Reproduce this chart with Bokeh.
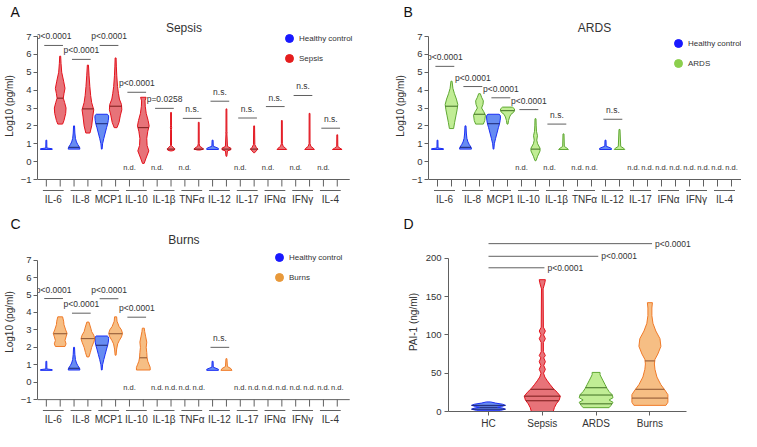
import numpy as np
from bokeh.plotting import figure
from bokeh.models import FixedTicker, Legend, LegendItem
from bokeh.layouts import column, row
from bokeh.core.properties import value
from bokeh.embed import file_html
from bokeh.resources import INLINE

FONT = "Liberation Sans"
TXT = "#333333"
AX = "#606060"

# ---------------- data ----------------
cytokines = ["IL-6", "IL-8", "MCP1", "IL-10", "IL-1β", "TNFα", "IL-12", "IL-17", "IFNα", "IFNγ", "IL-4"]

# healthy controls (log10 pg/ml levels and relative violin widths); absent = n.d.
hc_levels = {
    "IL-6": [0.68, 0.72, 0.76, 1.2],
    "IL-8": [0.7, 0.8, 0.95, 1.1, 1.3, 1.6, 2.0],
    "MCP1": [0.7, 1.0, 1.3, 1.6, 1.9, 2.1, 2.3, 2.5, 2.6, 2.65],
    "IL-12": [0.68, 0.74, 0.8, 0.86, 1.2],
}
hc_widths = {
    "IL-6": [0.85, 0.85, 0.08, 0.06],
    "IL-8": [0.85, 0.8, 0.55, 0.35, 0.2, 0.12, 0.07],
    "MCP1": [0.05, 0.12, 0.3, 0.5, 0.7, 0.85, 0.95, 1.0, 0.95, 0.8],
    "IL-12": [0.85, 0.85, 0.5, 0.1, 0.07],
}
hc_medians = {"IL-8": 0.8, "MCP1": 2.12}

sepsis_levels = {
    "IL-6": [2.1, 2.3, 2.7, 3.0, 3.3, 3.55, 3.8, 4.1, 4.5, 5.0, 5.5, 5.9],
    "IL-8": [1.6, 2.0, 2.5, 2.9, 3.3, 3.7, 4.2, 4.8, 5.4],
    "MCP1": [1.9, 2.2, 2.6, 2.9, 3.2, 3.5, 3.8, 4.2, 4.8, 5.3, 5.8],
    "IL-10": [-0.1, 0.2, 0.6, 0.9, 1.3, 1.7, 2.0, 2.3, 2.7, 3.1, 3.4, 3.6],
    "IL-1β": [0.6, 0.65, 0.72, 0.8, 0.9, 1.8, 1.9, 2.0, 2.75],
    "TNFα": [0.65, 0.7, 0.76, 0.86, 1.0, 2.2],
    "IL-12": [0.3, 0.6, 0.67, 0.75, 0.85, 1.55, 1.62, 1.7, 2.95],
    "IL-17": [0.5, 0.6, 0.7, 0.8, 0.95, 2.0],
    "IFNα": [0.68, 0.75, 0.85, 1.0, 2.3],
    "IFNγ": [0.68, 0.75, 0.85, 1.0, 2.7],
    "IL-4": [0.68, 0.75, 0.85, 1.5],
}
sepsis_widths = {
    "IL-6": [0.35, 0.55, 0.8, 0.85, 0.65, 0.45, 0.55, 0.7, 0.5, 0.22, 0.12, 0.07],
    "IL-8": [0.3, 0.55, 0.7, 0.85, 0.55, 0.4, 0.28, 0.17, 0.08],
    "MCP1": [0.2, 0.5, 0.7, 0.9, 0.85, 0.55, 0.42, 0.28, 0.17, 0.11, 0.07],
    "IL-10": [0.12, 0.4, 0.8, 0.55, 0.5, 0.65, 0.85, 0.7, 0.42, 0.28, 0.25, 0.4],
    "IL-1β": [0.15, 0.5, 0.55, 0.3, 0.07, 0.06, 0.09, 0.06, 0.06],
    "TNFα": [0.2, 0.7, 0.55, 0.15, 0.07, 0.06],
    "IL-12": [0.06, 0.15, 0.65, 0.65, 0.15, 0.07, 0.1, 0.07, 0.06],
    "IL-17": [0.08, 0.3, 0.55, 0.3, 0.1, 0.06],
    "IFNα": [0.7, 0.55, 0.2, 0.07, 0.06],
    "IFNγ": [0.7, 0.55, 0.2, 0.07, 0.06],
    "IL-4": [0.7, 0.4, 0.08, 0.06],
}
sepsis_medians = {"IL-6": 3.55, "IL-8": 2.95, "MCP1": 3.1, "IL-10": 1.9, "IL-1β": 0.7,
                  "TNFα": 0.7, "IL-12": 0.7, "IL-17": 0.7}

ards_levels = {
    "IL-6": [1.85, 2.2, 2.6, 2.9, 3.2, 3.5, 3.8, 4.1, 4.5],
    "IL-8": [2.1, 2.3, 2.6, 2.8, 3.0, 3.2, 3.4, 3.6, 3.8],
    "MCP1": [2.1, 2.3, 2.5, 2.65, 2.75, 2.85, 2.95, 3.05],
    "IL-10": [0.05, 0.3, 0.6, 0.75, 1.0, 1.2, 1.45, 1.7, 2.0, 2.4],
    "IL-1β": [0.68, 0.75, 0.85, 1.55],
    "IL-12": [0.68, 0.75, 0.85, 1.8],
}
ards_widths = {
    "IL-6": [0.3, 0.45, 0.65, 0.8, 0.9, 0.7, 0.42, 0.2, 0.08],
    "IL-8": [0.55, 0.75, 0.85, 0.6, 0.3, 0.5, 0.55, 0.3, 0.12],
    "MCP1": [0.07, 0.15, 0.3, 0.5, 0.85, 1.0, 1.0, 0.7],
    "IL-10": [0.07, 0.3, 0.65, 0.65, 0.3, 0.18, 0.28, 0.14, 0.1, 0.07],
    "IL-1β": [0.7, 0.5, 0.12, 0.07],
    "IL-12": [0.75, 0.6, 0.17, 0.07],
}
ards_medians = {"IL-6": 3.1, "IL-8": 2.65, "MCP1": 2.85, "IL-10": 0.7}

burns_levels = {
    "IL-6": [2.05, 2.2, 2.4, 2.6, 2.8, 3.0, 3.3, 3.5, 3.75],
    "IL-8": [1.45, 1.7, 2.0, 2.3, 2.5, 2.7, 2.9, 3.1, 3.45],
    "MCP1": [1.55, 1.9, 2.2, 2.4, 2.6, 2.8, 3.0, 3.2, 3.5, 3.75],
    "IL-10": [0.7, 0.85, 1.0, 1.2, 1.4, 1.7, 2.0, 2.3, 2.6, 2.9, 3.1],
    "IL-12": [0.68, 0.78, 0.9, 1.35],
}
burns_widths = {
    "IL-6": [0.7, 0.85, 0.7, 0.85, 1.0, 0.8, 0.55, 0.5, 0.35],
    "IL-8": [0.15, 0.35, 0.55, 0.85, 1.0, 0.85, 0.55, 0.42, 0.15],
    "MCP1": [0.07, 0.15, 0.3, 0.55, 0.85, 1.0, 0.85, 0.5, 0.2, 0.15],
    "IL-10": [1.0, 1.0, 0.85, 0.65, 0.55, 0.5, 0.42, 0.5, 0.35, 0.2, 0.14],
    "IL-12": [0.8, 0.65, 0.14, 0.07],
}
burns_medians = {"IL-6": 2.78, "IL-8": 2.5, "MCP1": 2.78, "IL-10": 1.4}

sepsis_bracket_at = ["IL-6", "IL-8", "MCP1", "IL-10", "IL-1β", "TNFα", "IL-12", "IL-17", "IFNα", "IFNγ", "IL-4"]
sepsis_bracket_y = [6.5, 5.72, 6.5, 3.88, 2.98, 2.42, 3.38, 2.44, 3.08, 3.7, 1.87]
sepsis_bracket_p = ["p<0.0001", "p<0.0001", "p<0.0001", "p<0.0001", "p=0.0258",
                    "n.s.", "n.s.", "n.s.", "n.s.", "n.s.", "n.s."]
ards_bracket_at = ["IL-6", "IL-8", "MCP1", "IL-10", "IL-1β", "IL-12"]
ards_bracket_y = [5.33, 4.2, 3.57, 2.91, 2.1, 2.37]
ards_bracket_p = ["p<0.0001", "p<0.0001", "p<0.0001", "p<0.0001", "n.s.", "n.s."]
burns_bracket_at = ["IL-6", "IL-8", "MCP1", "IL-10", "IL-12"]
burns_bracket_y = [4.8, 3.96, 4.79, 3.73, 2.0]
burns_bracket_p = ["p<0.0001", "p<0.0001", "p<0.0001", "p<0.0001", "n.s."]

# PAI-1 (ng/ml)
pai_groups = ["HC", "Sepsis", "ARDS", "Burns"]
pai_hc_levels = [1.5, 3, 4.5, 5.5, 6.5, 8, 9.5, 11, 12.5]
pai_hc_widths = [0.67, 0.94, 0.78, 0.5, 0.72, 0.94, 0.78, 0.39, 0.11]
pai_sepsis_levels = [0, 5, 10, 15, 20, 25, 30, 35, 40, 45, 50, 55, 60, 65, 70, 73, 78, 90, 95, 100, 105, 110, 160, 168, 172]
pai_sepsis_widths = [0.61, 0.67, 0.78, 0.94, 1.0, 0.83, 0.61, 0.44, 0.28, 0.14, 0.07, 0.17, 0.08, 0.17, 0.08,
                     0.17, 0.06, 0.06, 0.17, 0.07, 0.17, 0.06, 0.045, 0.14, 0.17]
pai_ards_levels = [5, 8, 12, 15, 18, 22, 26, 30, 35, 40, 45, 48, 51]
pai_ards_widths = [0.72, 0.83, 0.94, 0.72, 0.94, 0.89, 0.72, 0.61, 0.5, 0.39, 0.28, 0.22, 0.22]
pai_burns_levels = [8, 12, 18, 22, 28, 35, 45, 55, 62, 68, 75, 85, 95, 105, 115, 125, 135, 142]
pai_burns_widths = [0.89, 1.0, 1.0, 1.0, 0.83, 0.61, 0.39, 0.28, 0.25, 0.28, 0.44, 0.61, 0.56, 0.33, 0.17, 0.11, 0.11, 0.14]
pai_hc_quartiles = [3, 5.5, 8]
pai_sepsis_quartiles = [14, 20, 29]
pai_ards_quartiles = [10, 21.5, 31]
pai_burns_quartiles = [17.5, 29, 66]
pai_cmp_to = [3, 2, 1]
pai_cmp_y = [219, 202.5, 187.5]
pai_cmp_p = ["p<0.0001", "p<0.0001", "p<0.0001"]

# ---------------- styles ----------------
HC = dict(line="#1a2ef5", fill="#4c78f0", med="#1c2470", key="#1919ff")
SEP = dict(line="#e3121c", fill="#e35a62", med="#7a1a1a", key="#e51d1d")
ARD = dict(line="#5fa833", fill="#b6ea82", med="#3f6e22", key="#8ccf4d")
BRN = dict(line="#f07a28", fill="#f5b36e", med="#8a5230", key="#e8993a")
NAN = float("nan")


def violin(center, levels, widths, halfw):
    lv = np.asarray(levels, float)
    w = np.asarray(widths, float) * halfw
    xs = np.concatenate([center + w, (center - w)[::-1]])
    ys = np.concatenate([lv, lv[::-1]])
    return xs.tolist(), ys.tolist()


def draw_violins(p, centers, levels_list, widths_list, stats_list, style, halfw):
    vx, vy = [], []
    mx0, mx1, my = [], [], []
    for c, lv, wd, st in zip(centers, levels_list, widths_list, stats_list):
        x, y = violin(c, lv, wd, halfw)
        vx.append(x)
        vy.append(y)
        for m in st:
            hw = float(np.interp(m, lv, wd)) * halfw
            mx0.append(c - hw)
            mx1.append(c + hw)
            my.append(m)
    p.patches(xs=vx, ys=vy, fill_color=style["fill"], fill_alpha=0.85,
              line_color=style["line"], line_width=1)
    if my:
        p.segment(x0=mx0, y0=my, x1=mx1, y1=my, line_color=style["med"], line_width=1)


def base_fig(W, H, bl, bb, bt, xr, yr, letter, letter_x):
    p = figure(width=W, height=H, x_range=xr, y_range=yr, output_backend="svg",
               toolbar_location=None, min_border_left=bl, min_border_right=0,
               min_border_top=bt, min_border_bottom=bb)
    p.outline_line_color = None
    p.grid.visible = False
    p.title.text = letter
    p.title.align = "left"
    p.title.offset = letter_x - bl
    p.title.standoff = 1
    p.title.text_font = FONT
    p.title.text_font_style = "normal"
    p.title.text_font_size = "14px"
    p.title.text_color = "#111111"
    for ax in (p.xaxis[0], p.yaxis[0]):
        ax.major_label_text_font = FONT
        ax.major_label_text_color = TXT
        ax.axis_label_text_font = FONT
        ax.axis_label_text_font_style = "normal"
        ax.axis_label_text_color = TXT
        ax.minor_tick_line_color = None
        ax.axis_line_color = AX
        ax.major_tick_line_color = AX
        ax.major_tick_in = 0
    return p


def add_text(p, x, y, t, size, align="center", baseline="middle", color=TXT):
    p.text(x=x, y=y, text=t, text_font=value(FONT), text_font_size=size,
           text_align=align, text_baseline=baseline, text_color=color)


def cyto_panel(title, letter, dis_label, dis_style, dis_levels, dis_widths, dis_medians,
               b_at, b_y, b_p, geo):
    (W, H, bl, bb, bt, pxx, x_ref, pxy, y7, title_pos, letter_x, leg_loc) = geo
    fl, fr, ft, fb = bl, W, bt, H - bb
    xs = -0.5 - (x_ref - fl) / pxx
    xe = xs + (fr - fl) / pxx
    ye = 7 + (y7 - ft) / pxy
    ys = ye - (fb - ft) / pxy
    p = base_fig(W, H, bl, bb, bt, (xs, xe), (ys, ye), letter, letter_x)

    n = len(cytokines)
    centers = [2 * i for i in range(n)]
    hc_x = [c - 0.5 for c in centers]
    dx = [c + 0.5 for c in centers]

    yax = p.yaxis[0]
    yax.ticker = FixedTicker(ticks=list(range(-1, 8)))
    yax.bounds = (-1, 7)
    yax.major_tick_out = 4
    yax.major_label_standoff = 2
    yax.major_label_text_font_size = "9.5px"
    yax.axis_label = "Log10 (pg/ml)"
    yax.axis_label_text_font_size = "10px"
    yax.axis_label_standoff = 3

    xax = p.xaxis[0]
    xax.ticker = FixedTicker(ticks=centers)
    xax.major_label_overrides = {c: name for c, name in zip(centers, cytokines)}
    xax.axis_line_color = None
    xax.major_tick_line_color = None
    xax.major_tick_out = 0
    xax.major_label_standoff = 2
    xax.major_label_text_font_size = "10px"

    # grouped x axis: line at -1, a tick per violin, an underline per cytokine
    ax_end = dx[-1] + 0.9
    p.segment(x0=[xs], y0=[-1], x1=[ax_end], y1=[-1], line_color=AX, line_width=1)
    allx = hc_x + dx
    p.segment(x0=allx, y0=[-1] * len(allx), x1=allx, y1=[-1 - 7 / pxy] * len(allx),
              line_color=AX, line_width=1)
    p.segment(x0=[h - 0.25 for h in hc_x], y0=[-1 - 11 / pxy] * n,
              x1=[d + 0.25 for d in dx], y1=[-1 - 11 / pxy] * n, line_color=AX, line_width=1)

    hk = [k for k in cytokines if k in hc_levels]
    draw_violins(p, [hc_x[cytokines.index(k)] for k in hk], [hc_levels[k] for k in hk],
                 [hc_widths[k] for k in hk], [[hc_medians[k]] if k in hc_medians else [] for k in hk],
                 HC, 7 / pxx)
    dk = [k for k in cytokines if k in dis_levels]
    draw_violins(p, [dx[cytokines.index(k)] for k in dk], [dis_levels[k] for k in dk],
                 [dis_widths[k] for k in dk], [[dis_medians[k]] if k in dis_medians else [] for k in dk],
                 dis_style, 7 / pxx)

    ndx = [hc_x[i] for i, k in enumerate(cytokines) if k not in hc_levels] + \
          [dx[i] for i, k in enumerate(cytokines) if k not in dis_levels]
    add_text(p, ndx, [-0.33] * len(ndx), ["n.d."] * len(ndx), "7.5px")

    bi = [cytokines.index(k) for k in b_at]
    p.segment(x0=[hc_x[i] - 0.15 for i in bi], y0=b_y, x1=[dx[i] + 0.2 for i in bi], y1=b_y,
              line_color=AX, line_width=1)
    add_text(p, [centers[i] + 0.03 for i in bi], [y + 9 / pxy for y in b_y], b_p, "8.5px")

    add_text(p, [xs + (title_pos[0] - fl) / pxx], [ye - (title_pos[1] - ft) / pxy], [title], "12px")

    r1 = p.scatter(x=[NAN], y=[NAN], marker="circle", size=9, fill_color=HC["key"], line_color=HC["key"])
    r2 = p.scatter(x=[NAN], y=[NAN], marker="circle", size=9, fill_color=dis_style["key"],
                   line_color=dis_style["key"])
    leg = Legend(items=[LegendItem(label="Healthy control", renderers=[r1]),
                        LegendItem(label=dis_label, renderers=[r2])],
                 location=leg_loc, border_line_color=None, background_fill_alpha=0,
                 padding=0, spacing=-4, margin=0, label_height=20, glyph_height=20, glyph_width=20,
                 label_standoff=0, label_text_font=FONT, label_text_font_size="8px",
                 label_text_color=TXT)
    p.add_layout(leg)
    return p


# (W, H, border_l, border_b, border_t, px/unit x, px of first violin, px/unit y, px of y=7,
#  title centre, letter x, legend location)
geoA = (374, 212, 31, 21, 20, 14.1, 40, 17.875, 36, (180, 27), 4, (242, 123))
geoB = (367, 212, 54, 21, 20, 14.0, 63, 17.875, 36, (220, 27), 29, (240, 118))
geoC = (374, 219, 31, 18, 20, 14.1, 40, 17.625, 48, (180, 28), 4, (232, 124))

pA = cyto_panel("Sepsis", "A", "Sepsis", SEP, sepsis_levels, sepsis_widths, sepsis_medians,
                sepsis_bracket_at, sepsis_bracket_y, sepsis_bracket_p, geoA)
pB = cyto_panel("ARDS", "B", "ARDS", ARD, ards_levels, ards_widths, ards_medians,
                ards_bracket_at, ards_bracket_y, ards_bracket_p, geoB)
pC = cyto_panel("Burns", "C", "Burns", BRN, burns_levels, burns_widths, burns_medians,
                burns_bracket_at, burns_bracket_y, burns_bracket_p, geoC)

# ---------------- panel D ----------------
W, H, bl, bb, bt = 367, 219, 74, 18, 20
fl, fr, ft, fb = bl, W, bt, H - bb
pxx, pxy = 53.8, 0.775
xs = 0 - (114 - fl) / pxx
xe = xs + (fr - fl) / pxx
ys, ye = 0, (fb - ft) / pxy
pD = base_fig(W, H, bl, bb, bt, (xs, xe), (ys, ye), "D", 29)
yax = pD.yaxis[0]
yax.ticker = FixedTicker(ticks=[0, 50, 100, 150, 200])
yax.bounds = (0, 200)
yax.major_tick_out = 4
yax.major_label_standoff = 3
yax.major_label_text_font_size = "9.5px"
yax.axis_label = "PAI-1 (ng/ml)"
yax.axis_label_text_font_size = "10px"
yax.axis_label_standoff = 4
xax = pD.xaxis[0]
xax.ticker = FixedTicker(ticks=[0, 1, 2, 3])
xax.major_label_overrides = {i: g for i, g in enumerate(pai_groups)}
xax.bounds = (xs, 3.68)
xax.major_tick_out = 4
xax.major_label_standoff = 2
xax.major_label_text_font_size = "10px"

hwD = 18 / pxx
draw_violins(pD, [0], [pai_hc_levels], [pai_hc_widths], [pai_hc_quartiles], HC, hwD)
draw_violins(pD, [1], [pai_sepsis_levels], [pai_sepsis_widths], [pai_sepsis_quartiles], SEP, hwD)
draw_violins(pD, [2], [pai_ards_levels], [pai_ards_widths], [pai_ards_quartiles], ARD, hwD)
draw_violins(pD, [3], [pai_burns_levels], [pai_burns_widths], [pai_burns_quartiles], BRN, hwD)

pD.segment(x0=[0] * len(pai_cmp_to), y0=pai_cmp_y, x1=[t + 0.04 for t in pai_cmp_to], y1=pai_cmp_y,
           line_color=AX, line_width=1)
add_text(pD, [t + 0.04 + 3 / pxx for t in pai_cmp_to], pai_cmp_y, pai_cmp_p, "8.5px", align="left")

layout = column(row(pA, pB), row(pC, pD))
open("out.html", "w").write(file_html(layout, INLINE))
